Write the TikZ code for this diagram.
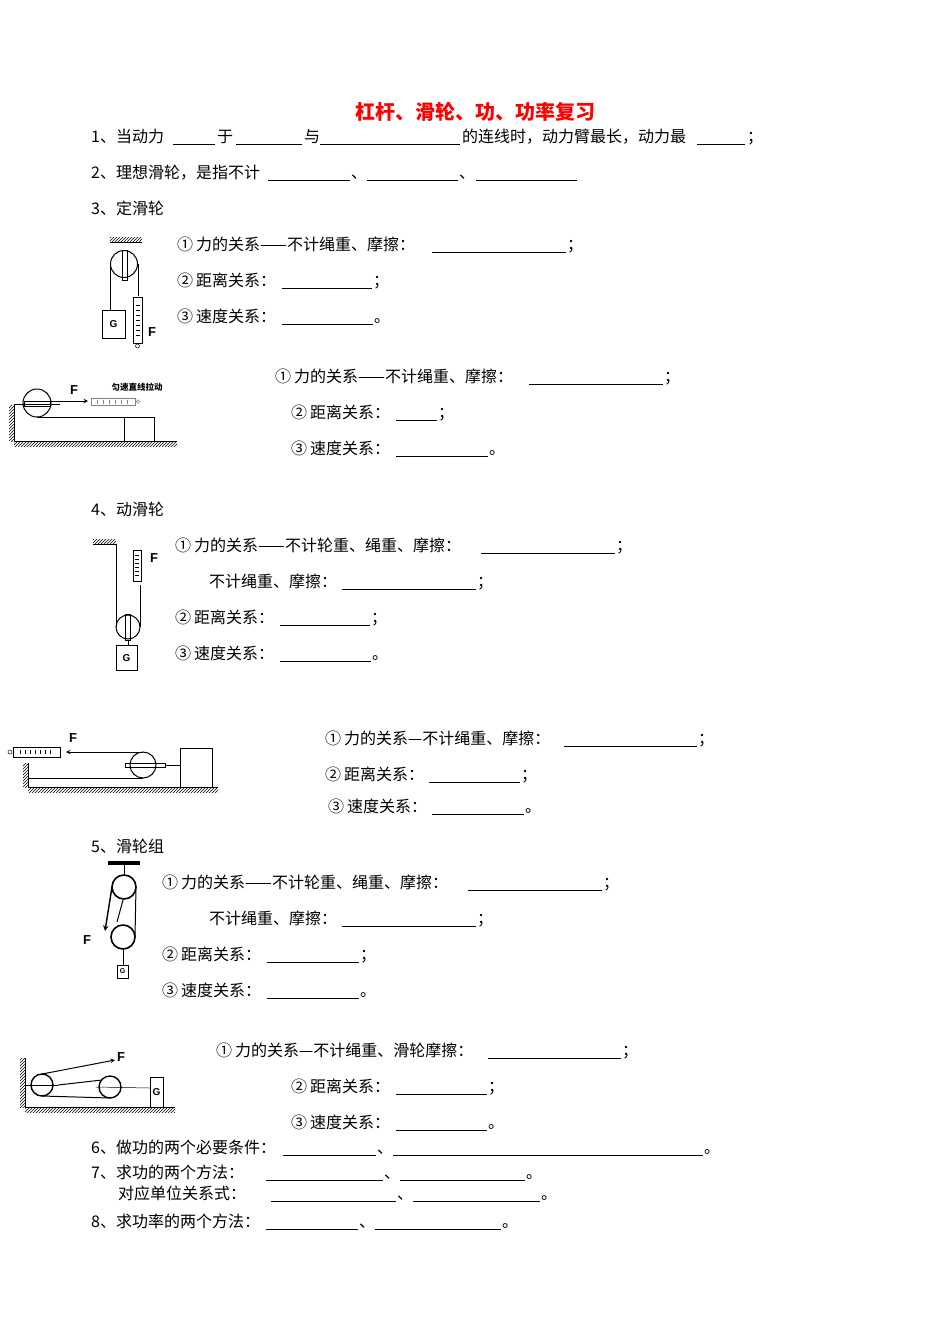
\documentclass[tikz,border=0pt]{standalone}
\usepackage{fontspec}
\setmainfont{Noto Sans CJK SC}
\newfontfamily\hv{Liberation Sans}
\usetikzlibrary{patterns}
\newcommand{\mytxt}[3]{\node[txt] at (#1,#2+5) {#3};}
\newcommand{\myblank}[3]{\draw[blk] (#1,#3+7)--(#2,#3+7);}
\newcommand{\cn}[1]{#1\hspace{3pt}}
\begin{document}
\begin{tikzpicture}[x=1pt,y=-1pt,
 txt/.style={anchor=base west,inner sep=0pt,font=\fontsize{16}{18}\selectfont},
 blk/.style={line width=0.6pt},
 ln/.style={line width=1pt},
 thin/.style={line width=0.5pt},
 lbl/.style={font=\hv\bfseries\fontsize{13}{14}\selectfont,inner sep=0pt},
 hatch/.style={pattern=north east lines,draw=none}]
\useasboundingbox (0,0) rectangle (950,1344);
\node[font=\bfseries\fontsize{20}{22}\selectfont,text=red] (title) at (475,112) {杠杆、滑轮、功、功率复习};
% line 1
\mytxt{91}{137}{1、当动力}\myblank{173}{215}{137}\mytxt{217}{137}{于}\myblank{236}{302}{137}
\mytxt{304}{137}{与}\myblank{320}{460}{137}\mytxt{462}{137}{的连线时，动力臂最长，动力最}\myblank{697}{745}{137}\mytxt{747}{137}{；}
% line 2
\mytxt{91}{173}{2、理想滑轮，是指不计}\myblank{268}{350}{173}\mytxt{351}{173}{、}\myblank{367}{458}{173}\mytxt{459}{173}{、}\myblank{476}{577}{173}
\mytxt{91}{209}{3、定滑轮}
\mytxt{177}{245}{\cn{①}力的关系——不计绳重、摩擦：}\myblank{432}{566}{245}\mytxt{567}{245}{；}
\mytxt{177}{281}{\cn{②}距离关系：}\myblank{282}{372}{281}\mytxt{373}{281}{；}
\mytxt{177}{317}{\cn{③}速度关系：}\myblank{282}{373}{317}\mytxt{374}{317}{。}
\mytxt{275}{377}{\cn{①}力的关系——不计绳重、摩擦：}\myblank{529}{663}{377}\mytxt{664}{377}{；}
\mytxt{291}{413}{\cn{②}距离关系：}\myblank{396}{437}{413}\mytxt{438}{413}{；}
\mytxt{291}{449}{\cn{③}速度关系：}\myblank{396}{488}{449}\mytxt{489}{449}{。}
\mytxt{91}{510}{4、动滑轮}
\mytxt{175}{546}{\cn{①}力的关系——不计轮重、绳重、摩擦：}\myblank{481}{615}{546}\mytxt{616}{546}{；}
\mytxt{209}{582}{不计绳重、摩擦：}\myblank{342}{476}{582}\mytxt{477}{582}{；}
\mytxt{175}{618}{\cn{②}距离关系：}\myblank{280}{370}{618}\mytxt{371}{618}{；}
\mytxt{175}{654}{\cn{③}速度关系：}\myblank{280}{371}{654}\mytxt{372}{654}{。}
\mytxt{325}{739}{\cn{①}力的关系—不计绳重、摩擦：}\myblank{564}{697}{739}\mytxt{698}{739}{；}
\mytxt{325}{775}{\cn{②}距离关系：}\myblank{429}{520}{775}\mytxt{521}{775}{；}
\mytxt{328}{807}{\cn{③}速度关系：}\myblank{432}{524}{807}\mytxt{525}{807}{。}
\mytxt{91}{847}{5、滑轮组}
\mytxt{162}{883}{\cn{①}力的关系——不计轮重、绳重、摩擦：}\myblank{468}{602}{883}\mytxt{603}{883}{；}
\mytxt{209}{919}{不计绳重、摩擦：}\myblank{342}{476}{919}\mytxt{477}{919}{；}
\mytxt{162}{955}{\cn{②}距离关系：}\myblank{267}{359}{955}\mytxt{360}{955}{；}
\mytxt{162}{991}{\cn{③}速度关系：}\myblank{267}{359}{991}\mytxt{360}{991}{。}
\mytxt{216}{1051}{\cn{①}力的关系—不计绳重、滑轮摩擦：}\myblank{488}{621}{1051}\mytxt{622}{1051}{；}
\mytxt{291}{1087}{\cn{②}距离关系：}\myblank{396}{487}{1087}\mytxt{488}{1087}{；}
\mytxt{291}{1123}{\cn{③}速度关系：}\myblank{396}{487}{1123}\mytxt{488}{1123}{。}
\mytxt{91}{1148}{6、做功的两个必要条件：}\myblank{283}{376}{1148}\mytxt{377}{1148}{、}\myblank{393}{703}{1148}\mytxt{704}{1148}{。}
\mytxt{91}{1173}{7、求功的两个方法：}\myblank{266}{383}{1173}\mytxt{384}{1173}{、}\myblank{400}{525}{1173}\mytxt{526}{1173}{。}
\mytxt{118}{1194}{对应单位关系式：}\myblank{271}{396}{1194}\mytxt{397}{1194}{、}\myblank{413}{540}{1194}\mytxt{541}{1194}{。}
\mytxt{91}{1222}{8、求功率的两个方法：}\myblank{266}{358}{1222}\mytxt{359}{1222}{、}\myblank{375}{501}{1222}\mytxt{502}{1222}{。}
% ---- fig 1: fixed pulley vertical
\fill[hatch] (110,237) rectangle (142,242);
\draw[thin] (110,242)--(142,242);
\node[circle,draw,line width=1pt,minimum size=27pt,inner sep=0pt] (p1) at (124,264) {};
\draw[thin] (122,250) rectangle (127,280);
\draw[ln] (110,264)--(110,310);
\draw[ln] (138,264)--(138,296);
\node[draw,line width=1pt,minimum width=23pt,minimum height=28pt,inner sep=0pt,font=\hv\bfseries] (g1) at (113.5,324) {G};
\draw[thin] (133,297) rectangle (142,343);
\foreach \yy in {305,310,...,335} \draw[thin] (135.5,\yy)--(139.5,\yy);
\draw[thin] (137.5,346) circle (2);
\node[lbl] (f1) at (152,332) {F};
% ---- fig 2
\fill[hatch] (9,405) rectangle (14,441);
\draw[thin] (14,405)--(14,441);
\fill[hatch] (14,441) rectangle (177,446);
\draw[thin] (14,441)--(177,441);
\node[circle,draw,line width=1pt,minimum size=28pt,inner sep=0pt] (p2) at (37,403) {};
\draw[thin] (14,404)--(60,404); \draw[thin] (24,401) rectangle (50,406);
\draw[ln,-stealth] (37,401)--(88,401);
\draw[ln] (37,417)--(124,417);
\node[draw,line width=1pt,minimum width=30pt,minimum height=24pt,inner sep=0pt] (box2) at (139,429) {};
\draw[thin,gray] (91,398) rectangle (135,405);
\foreach \xx in {97,103,...,127} \draw[thin,gray] (\xx,399.5)--(\xx,403.5);
\draw[thin,gray] (138,401.5) circle (1.8);
\node[lbl] (f2) at (74,390) {F};
\node[font=\bfseries\fontsize{8.5}{10}\selectfont,inner sep=0pt] (t2) at (137,387) {匀速直线拉动};
% ---- fig 3: movable pulley
\fill[hatch] (93,539) rectangle (116,544);
\draw[thin] (93,544)--(116,544);
\node[circle,draw,line width=1pt,minimum size=24pt,inner sep=0pt] (p3) at (128,627) {};
\draw[thin] (125.5,614) rectangle (130.5,640);
\draw[ln] (116,544)--(116,627);
\draw[ln] (140,627)--(140,585);
\draw[thin] (133,550) rectangle (141,581);
\foreach \yy in {555,559,...,577} \draw[thin] (135,\yy)--(139,\yy);
\node[lbl] (f3) at (154,558) {F};
\draw[thin] (128,640)--(128,645);
\node[draw,line width=1pt,minimum width=21pt,minimum height=25pt,inner sep=0pt,font=\hv\bfseries] (g3) at (126.5,658) {G};
% ---- fig 4
\fill[hatch] (28,787) rectangle (218,792);
\draw[thin] (28,787)--(218,787);
\fill[hatch] (23,763) rectangle (28,787);
\draw[ln] (28,763)--(28,787);
\node[circle,draw,line width=1pt,minimum size=26pt,inner sep=0pt] (p4) at (143,765) {};
\draw[thin] (125,763) rectangle (165,767);
\draw[ln] (165,765)--(180,765);
\node[draw,line width=1pt,minimum width=32pt,minimum height=39pt,inner sep=0pt] (box4) at (196,767.5) {};
\draw[ln] (28,778)--(143,778);
\draw[ln,-stealth] (143,752)--(66,752);
\draw[thin] (13,747) rectangle (60,757);
\foreach \xx in {20,25,...,50} \draw[thin] (\xx,750)--(\xx,754);
\draw[thin] (10,752) circle (2);
\node[lbl] (f4) at (73,738) {F};
% ---- fig 5: pulley block
\fill (108,861) rectangle (140,865);
\node[circle,draw,line width=1.6pt,minimum size=24pt,inner sep=0pt] (p5a) at (124,887) {};
\node[circle,draw,line width=1.6pt,minimum size=24pt,inner sep=0pt] (p5b) at (123,937) {};
\draw[thin] (124,865)--(124,875);
\draw[ln] (136,887)--(135,937);
\draw[ln] (117,922)--(123,900);
\draw[line width=1.4pt,-stealth] (112,887)--(105,931);
\node[lbl] (f5) at (87,940) {F};
\draw[thin] (123,949)--(123,965);
\node[draw,thin,minimum width=11pt,minimum height=13pt,inner sep=0pt,font=\hv\bfseries\scriptsize] (g5) at (122.5,971.5) {G};
% ---- fig 6
\fill[hatch] (20,1058) rectangle (25,1107);
\draw[ln] (25,1058)--(25,1107);
\fill[hatch] (25,1107) rectangle (175,1112);
\draw[ln] (25,1107)--(175,1107);
\node[circle,draw,line width=1.4pt,minimum size=22pt,inner sep=0pt] (p6a) at (42,1085) {};
\node[circle,draw,line width=1.4pt,minimum size=22pt,inner sep=0pt] (p6b) at (110,1087) {};
\draw[thin] (25,1085)--(58,1085);
\draw[ln,-stealth] (42,1074)--(115,1060);
\node[lbl] (f6) at (121,1057) {F};
\draw[ln] (58,1085)--(102,1080);
\draw[ln] (42,1096)--(110,1098);
\draw[thin] (96,1087)--(150,1088);
\node[draw,thin,minimum width=13pt,minimum height=30pt,inner sep=0pt,font=\hv\bfseries] (g6) at (156.5,1092) {G};
\end{tikzpicture}
\end{document}
